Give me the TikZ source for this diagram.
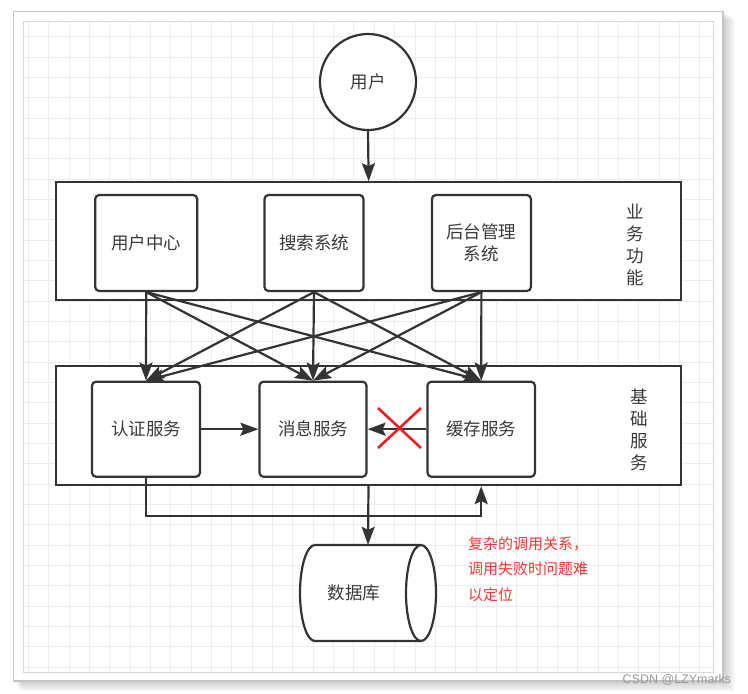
\documentclass[tikz,border=0pt]{standalone}
\usepackage{fontspec}
\setmainfont{Noto Sans CJK SC}
\newfontfamily\latinfont{Liberation Sans}
\usetikzlibrary{arrows.meta}
\definecolor{ink}{HTML}{333333}
\definecolor{txt}{HTML}{3A3A3A}
\definecolor{gridc}{HTML}{EDEDED}
\definecolor{framec}{HTML}{C4C4C4}
\definecolor{innerc}{HTML}{D6D6D6}
\definecolor{redx}{HTML}{EE1C25}
\definecolor{redt}{HTML}{FF3333}
\tikzset{
  box/.style={draw=ink, line width=2.2pt, rounded corners=4pt, fill=white, text=txt,
    font=\fontsize{17.5}{22}\selectfont, align=center, inner sep=0pt},
  cont/.style={draw=ink, line width=2.2pt, fill=white, inner sep=0pt},
  arr/.style={draw=ink, line width=2.2pt, -{Stealth[length=18pt, width=13pt, inset=3pt]}},
  vlabel/.style={text=txt, font=\fontsize{17.5}{21.8}\selectfont, align=center, inner sep=0pt},
  note/.style={text=redt, font=\fontsize{15}{25.5}\selectfont, align=left, inner sep=0pt}
}
\begin{document}
\begin{tikzpicture}[x=1pt,y=-1pt]
\useasboundingbox (0,0) rectangle (748,694);
\fill[white] (0,0) rectangle (748,694);
% shadow
\foreach \i in {1,...,8}
  \fill[black, opacity=0.025] ({13+\i},{11+\i}) rectangle ({723+1.5*\i},{681+1.3*\i});
% outer frame
\draw[framec, line width=1.6pt, fill=white] (13.5,11.5) rectangle (723,681);
% grid
\foreach \k in {0,...,33}
  \draw[gridc, line width=0.9pt] ({28.3+\k*20.35},21.5) -- ({28.3+\k*20.35},672);
\foreach \k in {0,...,31}
  \draw[gridc, line width=0.9pt] (23.5,{36.7+\k*20.34}) -- (713,{36.7+\k*20.34});
\draw[innerc, line width=1pt] (23.3,21.3) rectangle (713.3,672.3);

% user
\node[box, circle, rounded corners=0pt, minimum size=96pt] (user) at (368,82) {用户};

% containers
\node[cont, minimum width=624.7pt, minimum height=117.7pt] (biz) at (368.65,241.15) {};
\node[cont, minimum width=625pt, minimum height=119pt] (base) at (368.5,425.5) {};

% business nodes
\node[box, minimum width=102pt, minimum height=96pt] (uc) at (146.2,243) {用户中心};
\node[box, minimum width=99pt, minimum height=96pt] (ss) at (314,243) {搜索系统};
\node[box, minimum width=99pt, minimum height=96pt] (ht) at (481.4,243) {后台管理\\系统};
\node[vlabel] (bizlbl) at (635,245) {业\\务\\功\\能};

% base nodes
\node[box, minimum width=108pt, minimum height=95pt] (rz) at (146,429.2) {认证服务};
\node[box, minimum width=107pt, minimum height=95pt] (xx) at (313,429.2) {消息服务};
\node[box, minimum width=107.5pt, minimum height=95pt] (hc) at (481.2,429.2) {缓存服务};
\node[vlabel] (baselbl) at (639,430) {基\\础\\服\\务};

% database
\draw[ink, line width=2.2pt, fill=white] (315,545) -- (421,545)
  arc[start angle=-90, end angle=90, x radius=15, y radius=48] -- (315,641)
  arc[start angle=90, end angle=270, x radius=15, y radius=48] -- cycle;
\draw[ink, line width=2.2pt] (421,545) arc[start angle=-90, end angle=-270, x radius=15, y radius=48];
\node[text=txt, font=\fontsize{17.5}{22}\selectfont, inner sep=0pt, minimum width=136pt, minimum height=96pt] (db) at (368,593) {};
\node[text=txt, font=\fontsize{17.5}{22}\selectfont, inner sep=0pt] (dbtxt) at (354,593) {数据库};

% connectors
\draw[arr] (user.south) -- (biz.north);
\foreach \s in {uc,ss,ht}
  \foreach \t in {rz,xx,hc}
    \draw[arr] (\s.south) -- (\t.north);
\draw[arr] (rz.east) -- (xx.west);
\draw[arr] (hc.west) -- (xx.east);
\coordinate (bend) at (0,516);
\draw[arr] (rz.south) -- (rz.south |- bend) -| (hc.south |- base.south);
\draw[arr] (base.south) -- (db.north);

% red cross
\coordinate (cross) at (399.5,428);
\draw[redx, line width=2.6pt] (378,408) -- (421,448) (421,408) -- (378,448);

% note
\node[note, anchor=west] (notetxt) at (468,569) {复杂的调用关系，\\调用失败时问题难\\以定位};

% watermark text
\node[text=gray!80, font=\latinfont\fontsize{12.5}{14}\selectfont, inner sep=0pt] (wm) at (677,680) {CSDN @LZYmarks};
\end{tikzpicture}
\end{document}
